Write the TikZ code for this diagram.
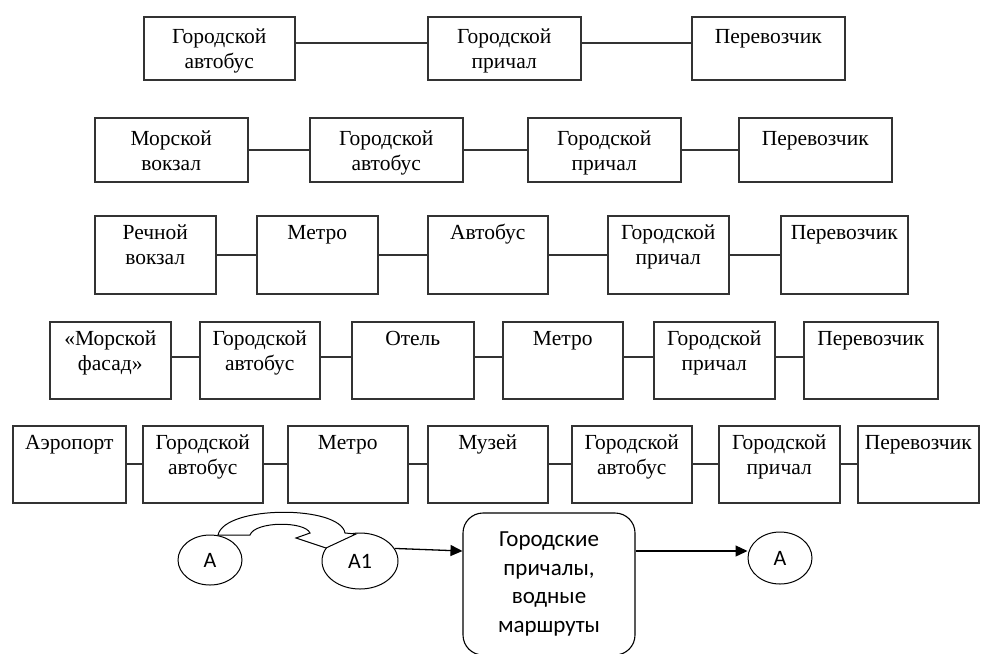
\documentclass[tikz,border=0pt]{standalone}
\usepackage{fontspec}
\setmainfont{Liberation Serif}
\newfontfamily\carl{Carlito}
\usetikzlibrary{arrows.meta,shapes.geometric}
\tikzset{
 boxst/.style={draw=black!80, line width=1.5pt, rectangle, inner sep=0pt, anchor=north west},
 txtst/.style={align=center, inner sep=0pt, anchor=north, font=\fontsize{21.5}{25}\selectfont},
 link/.style={draw=black!80, line width=1.6pt},
 ell/.style={ellipse, draw=black, line width=1pt, inner sep=0pt, font=\carl\fontsize{22}{24}\selectfont},
 rbox/.style={draw=black, line width=1.1pt, rounded corners=20pt, inner sep=0pt, align=center, font=\carl\fontsize{23}{28.5}\selectfont},
 arr/.style={draw=black, line width=1.3pt, -{Triangle[length=12pt,width=11pt]}},
 barrow/.style={draw=black, line width=1pt, fill=white}
}
\newcommand\bx[7]{%
 \node[boxst, minimum width=#4pt, minimum height=#5pt] (#1) at (#2,#3) {};
 \node[txtst] (#1t) at ([yshift=-#6pt]#1.north) {\rule{0pt}{16pt}#7};}
\begin{document}
\begin{tikzpicture}[x=1pt,y=-1pt]
\useasboundingbox (0,0) rectangle (981,653);
\clip (0,0) rectangle (981,653);
% row 1
\bx{r1a}{143}{16}{151}{63}{11}{Городской\\автобус}
\bx{r1b}{427}{16}{153}{63}{11}{Городской\\причал}
\bx{r1c}{691}{16}{153}{63}{11}{Перевозчик}
\draw[link] ([yshift=5pt]r1a.east) -- ([yshift=5pt]r1b.west);
\draw[link] ([yshift=5pt]r1b.east) -- ([yshift=5pt]r1c.west);
% row 2
\bx{r2a}{94}{117}{153}{64}{12}{Морской\\вокзал}
\bx{r2b}{309}{117}{153}{64}{12}{Городской\\автобус}
\bx{r2c}{527}{117}{153}{64}{12}{Городской\\причал}
\bx{r2d}{738}{117}{153}{64}{12}{Перевозчик}
\draw[link] (r2a.east) -- (r2b.west);
\draw[link] (r2b.east) -- (r2c.west);
\draw[link] (r2c.east) -- (r2d.west);
% row 3
\bx{r3a}{94}{215}{121}{78}{8}{Речной\\вокзал}
\bx{r3b}{256}{215}{121}{78}{8}{Метро}
\bx{r3c}{427}{215}{120}{78}{8}{Автобус}
\bx{r3d}{607}{215}{121}{78}{8}{Городской\\причал}
\bx{r3e}{780}{215}{127}{78}{8}{Перевозчик}
\draw[link] (r3a.east) -- (r3b.west);
\draw[link] (r3b.east) -- (r3c.west);
\draw[link] (r3c.east) -- (r3d.west);
\draw[link] (r3d.east) -- (r3e.west);
% row 4
\bx{r4a}{49}{321}{121}{77}{8}{«Морской\\фасад»}
\bx{r4b}{199}{321}{120}{77}{8}{Городской\\автобус}
\bx{r4c}{351}{321}{122}{77}{8}{Отель}
\bx{r4d}{502}{321}{120}{77}{8}{Метро}
\bx{r4e}{653}{321}{121}{77}{8}{Городской\\причал}
\bx{r4f}{803}{321}{134}{77}{8}{Перевозчик}
\draw[link] ([yshift=3pt]r4a.east) -- ([yshift=3pt]r4b.west);
\draw[link] ([yshift=3pt]r4b.east) -- ([yshift=3pt]r4c.west);
\draw[link] ([yshift=3pt]r4c.east) -- ([yshift=3pt]r4d.west);
\draw[link] ([yshift=3pt]r4d.east) -- ([yshift=3pt]r4e.west);
\draw[link] ([yshift=3pt]r4e.east) -- ([yshift=3pt]r4f.west);
% row 5
\bx{r5a}{12}{425}{113}{77}{8}{Аэропорт}
\bx{r5b}{142}{425}{120}{77}{8}{Городской\\автобус}
\bx{r5c}{287}{425}{120}{77}{8}{Метро}
\bx{r5d}{427}{425}{120}{77}{8}{Музей}
\bx{r5e}{571}{425}{120}{77}{8}{Городской\\автобус}
\bx{r5f}{718}{425}{121}{77}{8}{Городской\\причал}
\bx{r5g}{857}{425}{121}{77}{8}{Перевозчик}
\draw[link] (r5a.east) -- (r5b.west);
\draw[link] (r5b.east) -- (r5c.west);
\draw[link] (r5c.east) -- (r5d.west);
\draw[link] (r5d.east) -- (r5e.west);
\draw[link] (r5e.east) -- (r5f.west);
\draw[link] (r5f.east) -- (r5g.west);
% bottom
\node[ell, minimum width=64pt, minimum height=50pt] (A) at (210,560) {A};
\node[ell, minimum width=76pt, minimum height=56pt] (A1) at (360,561) {A1};
\node[rbox, minimum width=172pt, minimum height=142pt] (rb) at (549,584) {Городские\\причалы,\\водные\\маршруты};
\node[ell, minimum width=64pt, minimum height=52pt] (Ar) at (780,558) {A};
\draw[barrow] (218,535) .. controls (225,505) and (340,505) .. (345,533) -- (356,534) -- (326,548) -- (296,538) -- (310,533) .. controls (305,521) and (255,521) .. (250,535) -- cycle;
\draw[arr] (A1.20) -- ([yshift=33pt]rb.west);
\draw[arr] ([yshift=33pt]rb.east) -- ([yshift=33pt]rb.east -| Ar.west);
\end{tikzpicture}
\end{document}
